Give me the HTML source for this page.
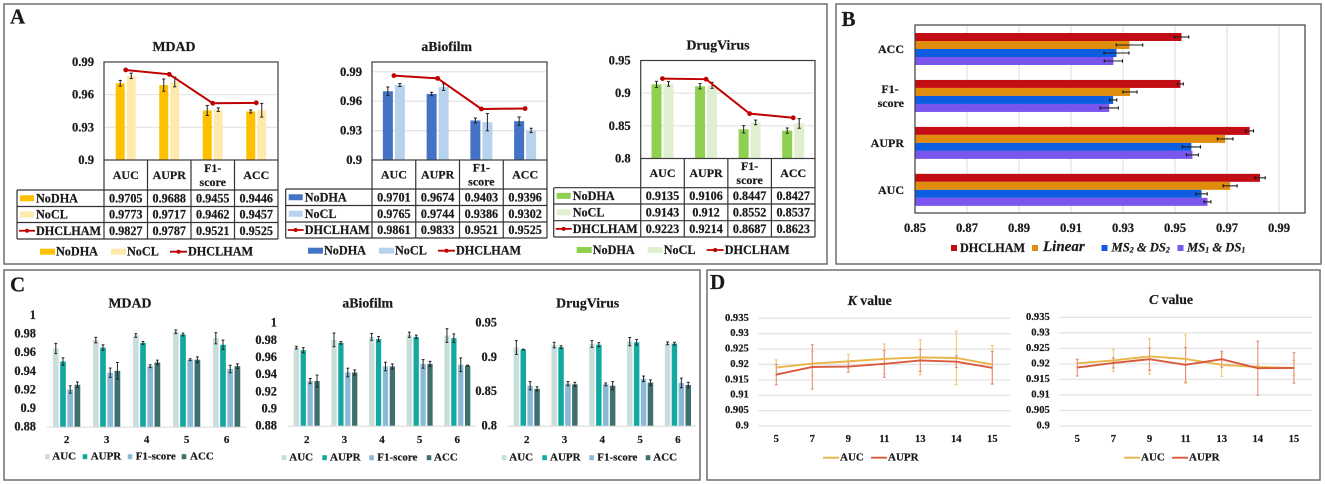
<!DOCTYPE html>
<html lang="en">
<head>
<meta charset="utf-8">
<title>DHCLHAM model comparison figure</title>
<style>
html,body{margin:0;padding:0;background:#fff;width:1325px;height:484px;overflow:hidden}
svg{display:block;font-family:"Liberation Serif",serif;font-weight:bold;fill:#1a1a1a;filter:blur(0.35px)}
text{stroke:#1a1a1a;stroke-width:0.2px}
</style>
</head>
<body>
<svg id="figure" xmlns="http://www.w3.org/2000/svg" width="1325" height="484" viewBox="0 0 1325 484"></svg>
<script>
/* ---------- Panel A data ---------- */
const aMetrics = ['AUC', 'AUPR', 'F1-score', 'ACC'];
const aSeriesNames = ['NoDHA', 'NoCL', 'DHCLHAM'];
const mdadTicks = [0.9, 0.93, 0.96, 0.99];
const mdadNoDHA = [0.9705, 0.9688, 0.9455, 0.9446];
const mdadNoCL = [0.9773, 0.9717, 0.9462, 0.9457];
const mdadFull = [0.9827, 0.9787, 0.9521, 0.9525];
const mdadNoDHAErr = [0.0026, 0.0056, 0.0046, 0.0014];
const mdadNoCLErr = [0.0025, 0.0045, 0.0017, 0.0063];
const biofilmTicks = [0.9, 0.93, 0.96, 0.99];
const biofilmNoDHA = [0.9701, 0.9674, 0.9403, 0.9396];
const biofilmNoCL = [0.9765, 0.9744, 0.9386, 0.9302];
const biofilmFull = [0.9861, 0.9833, 0.9521, 0.9525];
const biofilmNoDHAErr = [0.0044, 0.0017, 0.0025, 0.0043];
const biofilmNoCLErr = [0.0015, 0.0034, 0.0088, 0.0022];
const virusTicks = [0.8, 0.85, 0.9, 0.95];
const virusNoDHA = [0.9135, 0.9106, 0.8447, 0.8427];
const virusNoCL = [0.9143, 0.912, 0.8552, 0.8537];
const virusFull = [0.9223, 0.9214, 0.8687, 0.8623];
const virusNoDHAErr = [0.0046, 0.004, 0.0056, 0.004];
const virusNoCLErr = [0.0036, 0.0046, 0.0036, 0.0074];

/* ---------- Panel B data ---------- */
const bCategories = ['ACC', 'F1-score', 'AUPR', 'AUC'];
const bTicks = [0.85, 0.87, 0.89, 0.91, 0.93, 0.95, 0.97, 0.99];
const bFull = [0.9525, 0.9521, 0.9787, 0.9827];
const bLinear = [0.9325, 0.9327, 0.9693, 0.9712];
const bMs2 = [0.9275, 0.9262, 0.9563, 0.9602];
const bMs1 = [0.9263, 0.9247, 0.9567, 0.9625];
const bFullErr = [0.0028, 0.0011, 0.0015, 0.002];
const bLinearErr = [0.0051, 0.0027, 0.003, 0.0027];
const bMs2Err = [0.0048, 0.0014, 0.0035, 0.0022];
const bMs1Err = [0.0035, 0.0035, 0.0023, 0.0013];

/* ---------- Panel C data ---------- */
const cCategories = ['2', '3', '4', '5', '6'];
const cMetrics = ['AUC', 'AUPR', 'F1-score', 'ACC'];
const cTicksMdad = [0.88, 0.9, 0.92, 0.94, 0.96, 0.98, 1];
const cTicksBiofilm = [0.88, 0.9, 0.92, 0.94, 0.96, 0.98, 1];
const cTicksVirus = [0.8, 0.85, 0.9, 0.95];
const cMdadAuc = [0.964, 0.973, 0.978, 0.982, 0.975];
const cMdadAupr = [0.95, 0.965, 0.97, 0.979, 0.968];
const cMdadF1 = [0.92, 0.938, 0.945, 0.952, 0.942];
const cMdadAcc = [0.925, 0.94, 0.949, 0.952, 0.945];
const cMdadAucErr = [0.0055, 0.003, 0.002, 0.002, 0.006];
const cMdadAuprErr = [0.004, 0.003, 0.0015, 0.0015, 0.005];
const cMdadF1Err = [0.004, 0.005, 0.0015, 0.001, 0.004];
const cMdadAccErr = [0.003, 0.009, 0.0025, 0.003, 0.0025];
const cBiofilmAuc = [0.971, 0.98, 0.9835, 0.986, 0.985];
const cBiofilmAupr = [0.968, 0.9765, 0.981, 0.9835, 0.982];
const cBiofilmF1 = [0.932, 0.942, 0.949, 0.952, 0.951];
const cBiofilmAcc = [0.932, 0.942, 0.949, 0.952, 0.95];
const cBiofilmAucErr = [0.0015, 0.008, 0.004, 0.003, 0.008];
const cBiofilmAuprErr = [0.003, 0.0015, 0.003, 0.002, 0.005];
const cBiofilmF1Err = [0.003, 0.005, 0.005, 0.005, 0.008];
const cBiofilmAccErr = [0.007, 0.003, 0.003, 0.003, 0.0005];
const cVirusAuc = [0.9135, 0.917, 0.9185, 0.922, 0.9195];
const cVirusAupr = [0.9105, 0.914, 0.9175, 0.921, 0.919];
const cVirusF1 = [0.858, 0.861, 0.86, 0.868, 0.862];
const cVirusAcc = [0.8535, 0.86, 0.858, 0.8625, 0.859];
const cVirusAucErr = [0.01, 0.004, 0.005, 0.006, 0.002];
const cVirusAuprErr = [0.0005, 0.002, 0.003, 0.004, 0.002];
const cVirusF1Err = [0.006, 0.003, 0.002, 0.004, 0.007];
const cVirusAccErr = [0.003, 0.003, 0.006, 0.004, 0.004];

/* ---------- Panel D data ---------- */
const dCategories = ['5', '7', '9', '11', '13', '14', '15'];
const dTicks = [0.9, 0.905, 0.91, 0.915, 0.92, 0.925, 0.93, 0.935];
const kAuc = [0.919, 0.9203, 0.921, 0.9218, 0.9223, 0.9221, 0.92];
const kAupr = [0.9167, 0.9192, 0.9193, 0.9202, 0.9213, 0.9209, 0.9189];
const kAucErr = [0.0025, 0.004, 0.0023, 0.0049, 0.0057, 0.0087, 0.0062];
const kAuprErr = [0.0033, 0.0072, 0.0018, 0.0044, 0.0036, 0.0019, 0.0053];
const cvAuc = [0.9202, 0.9211, 0.9224, 0.9216, 0.9197, 0.919, 0.9187];
const cvAupr = [0.9188, 0.9203, 0.9215, 0.9197, 0.9215, 0.9186, 0.9187];
const cvAucErr = [0.0012, 0.0036, 0.0057, 0.0078, 0.0037, 0.0005, 0.0023];
const cvAuprErr = [0.0027, 0.0016, 0.0036, 0.0056, 0.0026, 0.0087, 0.0049];

/* ---------- helpers ---------- */
const NS = 'http://www.w3.org/2000/svg';
const root = document.getElementById('figure');
function node(tag, attrs, parent) {
  const e = document.createElementNS(NS, tag);
  for (const k in attrs) e.setAttribute(k, attrs[k]);
  (parent || root).appendChild(e);
  return e;
}
function group(parent) { return node('g', {}, parent); }
function rect(parent, x, y, w, h, fill) { return node('rect', {x: x, y: y, width: w, height: h, fill: fill}, parent); }
function line(parent, x1, y1, x2, y2, stroke, sw) { return node('line', {x1: x1, y1: y1, x2: x2, y2: y2, stroke: stroke, 'stroke-width': sw}, parent); }
function label(parent, x, y, str, size, anchor, italic) {
  const t = node('text', {x: x, y: y, 'font-size': size, 'text-anchor': anchor || 'start', 'dominant-baseline': 'central'}, parent);
  if (italic) t.setAttribute('font-style', 'italic');
  t.textContent = str;
  return t;
}
function linearScale(dMin, dMax, rMin, rMax) {
  return function (v) { return rMin + (v - dMin) / (dMax - dMin) * (rMax - rMin); };
}
function vErr(parent, x, yLo, yHi, cap, stroke, sw) {
  const g = group(parent);
  line(g, x, yLo, x, yHi, stroke, sw);
  line(g, x - cap, yLo, x + cap, yLo, stroke, sw);
  line(g, x - cap, yHi, x + cap, yHi, stroke, sw);
  return g;
}
function hErr(parent, y, xLo, xHi, cap) {
  const g = group(parent);
  line(g, xLo, y, xHi, y, '#222', 1.1);
  line(g, xLo, y - cap, xLo, y + cap, '#111', 1.1);
  line(g, xHi, y - cap, xHi, y + cap, '#111', 1.1);
  return g;
}
function panelBox(x, y, w, h, letter, lx, ly) {
  const b = rect(root, x, y, w, h, 'none');
  b.setAttribute('stroke', '#6e6e6e');
  b.setAttribute('stroke-width', '1.5');
  
  
  const t = label(root, lx, ly, letter, 21);
  t.setAttribute('dominant-baseline', 'alphabetic');
  
  
}

/* ---------- Panel A: bars + line + data table ---------- */
function drawA(slug, title, L, ticks, s1, s2, s3, e1, e2, colors) {
  const g = group();
  
  
  const y = linearScale(L.min, L.max, L.bottom, L.top);
  const colW = (L.right - L.left) / aMetrics.length;
  const cx = i => L.left + colW * (i + 0.5);

  const tt = label(g, L.titleX, L.titleY, title, 13.8, 'middle');
  
  

  ticks.forEach(v => {
    if (v !== L.min && v !== L.max) {
      const gl = line(g, L.left + 1, y(v), L.right - 1, y(v), '#e2e2e2', 1.2);
      
      
    }
    const tl = label(g, L.left - 10, y(v), String(v), 12.6, 'end');
    
    
  });

  aMetrics.forEach((m, i) => {
    const b1 = rect(g, cx(i) - L.barW - 1, y(s1[i]), L.barW, L.bottom - y(s1[i]), colors[0]);
    
    
    const b2 = rect(g, cx(i) + 1, y(s2[i]), L.barW, L.bottom - y(s2[i]), colors[1]);
    
    
    const er1 = vErr(g, cx(i) - L.barW / 2 - 1, y(s1[i] - e1[i]), y(s1[i] + e1[i]), 1.6, '#222', 1);
    
    
    const er2 = vErr(g, cx(i) + L.barW / 2 + 1, y(s2[i] - e2[i]), y(s2[i] + e2[i]), 1.6, '#222', 1);
    
    
  });

  const poly = node('polyline', {fill: 'none', stroke: '#c00000', 'stroke-width': 2, points: s3.map((v, i) => cx(i) + ',' + y(v)).join(' ')}, g);
  
  
  s3.forEach((v, i) => {
    const c = node('circle', {cx: cx(i), cy: y(v), r: 2.4, fill: '#c00000'}, g);
    
    
  });

  const frame = rect(g, L.left, L.top, L.right - L.left, L.bottom - L.top, 'none');
  frame.setAttribute('stroke', '#3c3c3c');
  frame.setAttribute('stroke-width', '1.2');
  
  

  /* table */
  const tb = group(g);
  
  
  const R = L.rows;
  line(tb, L.left, L.bottom, L.left, R[3], '#333', 1.2);
  R.forEach(ry => line(tb, L.tableLeft, ry, L.right, ry, '#333', 1.2));
  line(tb, L.tableLeft, R[0], L.tableLeft, R[3], '#333', 1.2);
  for (let i = 1; i <= aMetrics.length; i++) line(tb, L.left + colW * i, L.bottom, L.left + colW * i, R[3], '#333', 1.2);
  aMetrics.forEach((m, i) => {
    const midY = (L.bottom + R[0]) / 2;
    if (m === 'F1-score') {
      const a = label(tb, cx(i), midY - 7, 'F1-', 12, 'middle');
      
      
      const b = label(tb, cx(i), midY + 7, 'score', 12, 'middle');
      
      
    } else {
      const a = label(tb, cx(i), midY, m, 12, 'middle');
      
      
    }
  });
  [s1, s2, s3].forEach((s, r) => {
    const my = (R[r] + R[r + 1]) / 2;
    if (r < 2) {
      const sw = rect(tb, L.tableLeft + 3, my - 3, 14, 6, colors[r]);
      
      
    } else {
      const sl = line(tb, L.tableLeft + 2, my, L.tableLeft + 18, my, '#c00000', 1.8);
      
      
      const sd = node('circle', {cx: L.tableLeft + 10, cy: my, r: 2, fill: '#c00000'}, tb);
      
      
    }
    const nm = label(tb, L.tableLeft + 19, my, aSeriesNames[r], 12.2);
    
    
    s.forEach((v, i) => {
      const cell = label(tb, cx(i), my, String(v), 12.2, 'middle');
      
      
    });
  });

  /* legend */
  const lg = group(g);
  
  
  const o = L.left - 64, ly = L.legendY;
  const s0 = rect(lg, o, ly - 3, 15, 6, colors[0]);
  
  
  const t0 = label(lg, o + 16, ly, aSeriesNames[0], 12.2);
  
  
  const s1b = rect(lg, o + 71, ly - 3, 15, 6, colors[1]);
  
  
  const t1 = label(lg, o + 87, ly, aSeriesNames[1], 12.2);
  
  
  const s2b = line(lg, o + 130, ly, o + 147, ly, '#c00000', 1.8);
  
  
  const s2c = node('circle', {cx: o + 138.5, cy: ly, r: 2, fill: '#c00000'}, lg);
  
  
  const t2 = label(lg, o + 148, ly, aSeriesNames[2], 12.2);
  
  
}

/* ---------- Panel B: horizontal bars ---------- */
function drawB() {
  const g = group();
  
  
  const P = {left: 915, right: 1305, top: 25, bottom: 213};
  const x = linearScale(0.85, 1, P.left, P.right);
  const bandY = linearScale(0, 4, 33 - 7.3, 33 - 7.3 + 187.8);
  const barH = 8;
  const colors = ['#c30d14', '#e08c0c', '#0d5de0', '#7a55ee'];
  const vals = [bFull, bLinear, bMs2, bMs1];
  const errs = [bFullErr, bLinearErr, bMs2Err, bMs1Err];
  bTicks.forEach(v => {
    if (v !== 0.85) {
      const gl = line(g, x(v), P.top + 1, x(v), P.bottom - 1, '#e3e3e3', 1.3);
      
      
    }
    const tl = label(g, x(v), 228, String(v), 12.6, 'middle');
    
    
  });
  bCategories.forEach((c, i) => {
    const top = bandY(i) + 7.3;
    vals.forEach((s, k) => {
      const r = rect(g, P.left, top + k * barH, x(s[i]) - P.left, barH, colors[k]);
      
      
    });
    vals.forEach((s, k) => {
      const e = hErr(g, top + k * barH + barH / 2, x(s[i] - errs[k][i]), x(s[i] + errs[k][i]), 1.6);
      
      
    });
    const midY = top + 2 * barH;
    if (c === 'F1-score') {
      const a = label(g, 890, midY - 7, 'F1-', 12, 'middle');
      
      
      const b = label(g, 904, midY + 7, 'score', 12, 'end');
      
      
    } else {
      const a = label(g, 904, midY, c, 12, 'end');
      
      
    }
  });
  const f = rect(g, P.left, P.top, P.right - P.left, P.bottom - P.top, 'none');
  f.setAttribute('stroke', '#3c3c3c');
  f.setAttribute('stroke-width', '1.2');
  
  

  const lg = group(g);
  
  
  const s0 = rect(lg, 951, 245, 6, 6, colors[0]);
  
  
  const t0 = label(lg, 960, 248, 'DHCLHAM', 12.2);
  
  
  const s1 = rect(lg, 1032, 245, 6, 6, colors[1]);
  
  
  const t1 = label(lg, 1043, 247, 'Linear', 15, 'start', true);
  
  
  const s2 = rect(lg, 1101.5, 245, 6, 6, colors[2]);
  
  
  const t2 = label(lg, 1111.5, 247.5, '', 12.6, 'start', true);
  
  
  subs(t2, 'MS', '2', ' & DS', '2');
  const s3 = rect(lg, 1177.5, 245, 6, 6, colors[3]);
  
  
  const t3 = label(lg, 1187, 247.5, '', 12.6, 'start', true);
  
  
  subs(t3, 'MS', '1', ' & DS', '1');
}
function subs(t, a, b, c, d) {
  [[a, 0, 12.6], [b, 2, 8], [c, -2, 12.6], [d, 2, 8]].forEach(p => {
    const sp = node('tspan', {dy: p[1], 'font-size': p[2]}, t);
    sp.textContent = p[0];
  });
}

/* ---------- Panel C: grouped bars ---------- */
function drawC(slug, title, L, ticks, series, errors) {
  const g = group();
  
  
  const colors = ['#c8dedb', '#13a9a0', '#8ab9d5', '#3f7070'];
  const y = linearScale(L.min, L.max, L.bottom, L.top);
  const cx = i => L.first + i * L.step;
  const t = label(g, L.titleX, 303, title, 13.8, 'middle');
  
  
  ticks.forEach(v => {
    const tl = label(g, L.tickX, y(v), String(v), 12.4, 'end');
    
    
  });
  const base = line(g, L.axisL, L.bottom + 0.5, L.axisR, L.bottom + 0.5, '#dcdcdc', 1.2);
  
  
  cCategories.forEach((c, i) => {
    const cl = label(g, cx(i), 440, c, 11, 'middle');
    
    
    series.forEach((s, k) => {
      const bx = cx(i) + (k - 2) * L.pitch + (L.pitch - L.barW) / 2;
      const r = rect(g, bx, y(s[i]), L.barW, L.bottom - y(s[i]), colors[k]);
      
      
      const e = vErr(g, bx + L.barW / 2, y(s[i] - errors[k][i]), y(s[i] + errors[k][i]), 1.4, '#222', 1);
      
      
    });
  });
  const lg = group(g);
  
  
  cMetrics.forEach((m, k) => {
    const sw = rect(lg, L.legendSw[k], L.legendY - 2.5, 4.6, 5, colors[k]);
    
    
    const tx = label(lg, L.legendTx[k], L.legendY, m, 11);
    
    
  });
}

/* ---------- Panel D: lines with error bars ---------- */
function drawD(slug, letter, L, auc, aupr, aucErr, auprErr) {
  const g = group();
  
  
  const y = linearScale(0.9, 0.935, L.bottom, L.top);
  const cx = i => L.first + i * L.step;
  const t = label(g, L.titleX, L.titleY, '', 13.8, 'middle');
  
  
  const ts1 = node('tspan', {'font-style': 'italic'}, t);
  ts1.textContent = letter;
  const ts2 = node('tspan', {}, t);
  ts2.textContent = ' value';
  dTicks.forEach(v => {
    const gl = line(g, L.axisL, y(v), L.axisR, y(v), '#e4e4e4', 1.3);
    
    
    const tl = label(g, L.axisL - 9.5, y(v), String(v), 10.6, 'end');
    
    
  });
  dCategories.forEach((c, i) => {
    const cl = label(g, cx(i), 439.5, c, 10.6, 'middle');
    
    
  });
  [[auc, aucErr, '#f0c878', '#e9b54a', 'auc'], [aupr, auprErr, '#e8907a', '#d95a3c', 'aupr']].forEach(s => {
    s[0].forEach((v, i) => {
      const e = vErr(g, cx(i), y(v - s[1][i]), y(v + s[1][i]), 1.5, s[2], 1.1);
      
      
    });
  });
  [[auc, '#e9b54a', 'auc'], [aupr, '#d95a3c', 'aupr']].forEach(s => {
    const p = node('polyline', {fill: 'none', stroke: s[1], 'stroke-width': 1.9, points: s[0].map((v, i) => cx(i) + ',' + y(v)).join(' ')}, g);
    
    
  });
  const lg = group(g);
  
  
  const o = L.legendX, ly = 457.7;
  const l1 = line(lg, o, ly, o + 16, ly, '#e9b54a', 1.9);
  
  
  const x1 = label(lg, o + 17, ly, 'AUC', 11);
  
  
  const l2 = line(lg, o + 48, ly, o + 64, ly, '#d95a3c', 1.9);
  
  
  const x2 = label(lg, o + 65, ly, 'AUPR', 11);
  
  
}

/* ---------- compose ---------- */
panelBox(4, 4, 823, 260, 'A', 10, 23.5);
panelBox(836, 4, 485, 260, 'B', 841.5, 26);
panelBox(4, 270, 696, 210, 'C', 10, 291.5);
panelBox(707, 270, 613, 210, 'D', 710, 289);

drawA('mdad', 'MDAD', {left: 104, right: 278, top: 62, bottom: 160, min: 0.9, max: 0.99, barW: 9, titleX: 174, titleY: 46.7, tableLeft: 17, rows: [190, 206.5, 222.5, 239], legendY: 251.7},
  mdadTicks, mdadNoDHA, mdadNoCL, mdadFull, mdadNoDHAErr, mdadNoCLErr, ['#ffc000', '#ffe9ac']);
drawA('abiofilm', 'aBiofilm', {left: 372, right: 547, top: 62, bottom: 160, min: 0.9, max: 1, barW: 10, titleX: 446.7, titleY: 46.7, tableLeft: 285.7, rows: [189, 205.5, 222, 238], legendY: 250.7},
  biofilmTicks, biofilmNoDHA, biofilmNoCL, biofilmFull, biofilmNoDHAErr, biofilmNoCLErr, ['#4472c4', '#b6d2ec']);
drawA('drugvirus', 'DrugVirus', {left: 640.7, right: 815, top: 60.5, bottom: 158.5, min: 0.8, max: 0.95, barW: 10, titleX: 718, titleY: 45, tableLeft: 553.7, rows: [187.7, 204, 220.7, 237], legendY: 250},
  virusTicks, virusNoDHA, virusNoCL, virusFull, virusNoDHAErr, virusNoCLErr, ['#8fd050', '#e0efd0']);

drawB();

drawC('c-mdad', 'MDAD', {min: 0.88, max: 1, top: 315, bottom: 426.7, first: 66.6, step: 40, pitch: 7.2, barW: 5.7, axisL: 46.7, axisR: 246.7, tickX: 36, titleX: 130, legendY: 456.7, legendSw: [45, 82.7, 127.7, 181.7], legendTx: [52.3, 90.7, 135.7, 190]},
  cTicksMdad, [cMdadAuc, cMdadAupr, cMdadF1, cMdadAcc], [cMdadAucErr, cMdadAuprErr, cMdadF1Err, cMdadAccErr]);
drawC('c-abiofilm', 'aBiofilm', {min: 0.88, max: 1, top: 322.7, bottom: 425.7, first: 306.7, step: 37.65, pitch: 6.9, barW: 5.3, axisL: 288, axisR: 476, tickX: 277, titleX: 367.7, legendY: 457.7, legendSw: [281.7, 322.3, 369.3, 426.7], legendTx: [289.3, 330, 377.3, 434]},
  cTicksBiofilm, [cBiofilmAuc, cBiofilmAupr, cBiofilmF1, cBiofilmAcc], [cBiofilmAucErr, cBiofilmAuprErr, cBiofilmF1Err, cBiofilmAccErr]);
drawC('c-drugvirus', 'DrugVirus', {min: 0.8, max: 0.95, top: 322.3, bottom: 425.7, first: 526.7, step: 37.8, pitch: 6.9, barW: 5.5, axisL: 507.7, axisR: 696.7, tickX: 497, titleX: 587.7, legendY: 457.7, legendSw: [501.7, 542.3, 589.3, 645.7], legendTx: [509.3, 550, 597.3, 653.3]},
  cTicksVirus, [cVirusAuc, cVirusAupr, cVirusF1, cVirusAcc], [cVirusAucErr, cVirusAuprErr, cVirusF1Err, cVirusAccErr]);

drawD('k-value', 'K', {top: 318.3, bottom: 426, first: 776.3, step: 36, axisL: 758.3, axisR: 1010.7, titleX: 869.7, titleY: 300, legendX: 823}, kAuc, kAupr, kAucErr, kAuprErr);
drawD('c-value', 'C', {top: 317.3, bottom: 426, first: 1077.3, step: 36.1, axisL: 1059.3, axisR: 1312, titleX: 1171, titleY: 299, legendX: 1124}, cvAuc, cvAupr, cvAucErr, cvAuprErr);
</script>
</body>
</html>
